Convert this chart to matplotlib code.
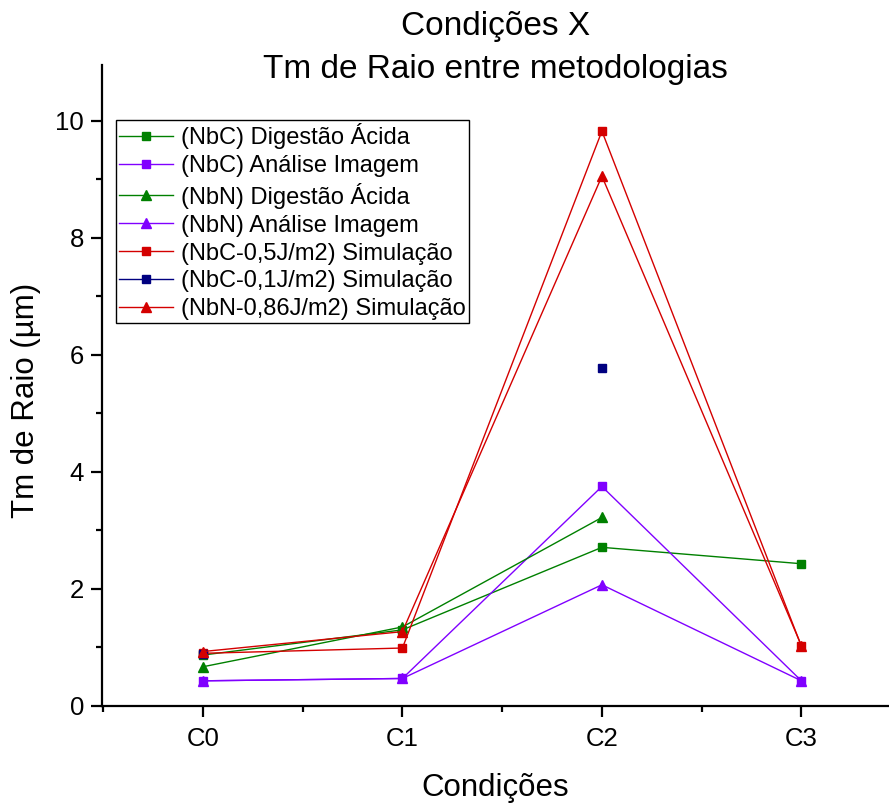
import numpy as np
import matplotlib.pyplot as plt

plt.rcParams['font.family'] = ['Liberation Sans', 'DejaVu Sans']

conditions = ['C0', 'C1', 'C2', 'C3']

nbc_digestao = [0.87, 1.30, 2.71, 2.43]
nbc_imagem = [0.43, 0.47, 3.75, 0.43]
nbn_digestao = [0.67, 1.35, 3.22, np.nan]
nbn_imagem = [0.43, 0.47, 2.07, 0.43]
nbc_05_sim = [0.90, 0.99, 9.82, 1.02]
nbc_01_sim = [0.88, np.nan, 5.78, np.nan]
nbn_086_sim = [0.93, 1.27, 9.05, 1.03]

series = [
    ('(NbC) Digestão Ácida', nbc_digestao, '#008000', 's'),
    ('(NbC) Análise Imagem', nbc_imagem, '#8000ff', 's'),
    ('(NbN) Digestão Ácida', nbn_digestao, '#008000', '^'),
    ('(NbN) Análise Imagem', nbn_imagem, '#8000ff', '^'),
    ('(NbC-0,5J/m2) Simulação', nbc_05_sim, '#d40000', 's'),
    ('(NbC-0,1J/m2) Simulação', nbc_01_sim, '#000080', 's'),
    ('(NbN-0,86J/m2) Simulação', nbn_086_sim, '#d40000', '^'),
]

fig = plt.figure(figsize=(8.89, 8.05), dpi=100)
ax = fig.add_axes([0.1147, 0.123, 0.8853, 0.7963])

x = np.arange(len(conditions))
for label, vals, color, marker in series:
    ms = 5.5 if marker == 's' else 7
    ax.plot(x, vals, color=color, marker=marker, markersize=ms,
            linewidth=1, label=label)

ax.set_xlim(-0.506, 3.439)
ax.set_ylim(0, 10.95)
ax.set_xticks(x)
ax.set_xticklabels(conditions)
ax.set_xticks([-0.5, 0.5, 1.5, 2.5], minor=True)
ax.set_yticks([0, 2, 4, 6, 8, 10])
ax.set_yticks([1, 3, 5, 7, 9], minor=True)

for side in ['top', 'right']:
    ax.spines[side].set_visible(False)
for side in ['left', 'bottom']:
    ax.spines[side].set_linewidth(1.6)

ax.tick_params(which='major', direction='out', length=8, width=1.6,
               labelsize=18.5, pad=5)
ax.tick_params(axis='x', which='major', pad=7)
ax.tick_params(which='minor', direction='out', length=4, width=1.6)

ax.set_xlabel('Condições', fontsize=22.5, labelpad=16)
ax.set_ylabel('Tm de Raio (µm)', fontsize=22.5)
ax.yaxis.set_label_coords(-0.078, 0.477)
ax.set_title('Condições X\nTm de Raio entre metodologias', fontsize=24,
             linespacing=1.5, y=0.98, pad=0)

leg = ax.legend(loc='upper left', bbox_to_anchor=(0.0178, 0.914), fontsize=17,
                frameon=True, fancybox=False, edgecolor='black', framealpha=1,
                handlelength=2.3, handletextpad=0.35, labelspacing=0.25,
                borderpad=0.12, borderaxespad=0)
leg.get_frame().set_linewidth(1.0)

fig.savefig('out.png', dpi=100)
